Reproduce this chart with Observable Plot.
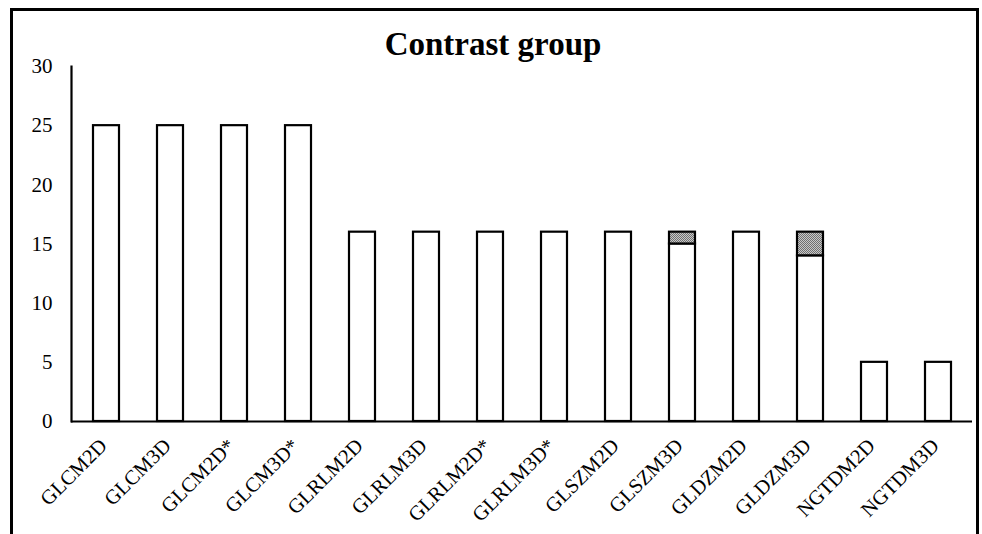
<!DOCTYPE html>
<html><head><meta charset="utf-8">
<script src="https://cdn.jsdelivr.net/npm/d3@7"></script>
<script src="https://cdn.jsdelivr.net/npm/@observablehq/plot@0.6"></script>
<style>
html,body{margin:0;padding:0;background:#fff;overflow:hidden;width:982px;height:534px}
#wrap{position:relative;width:982px;height:534px}
#border{position:absolute;left:10px;top:8px;width:969px;height:560px;border:3px solid #000;box-sizing:border-box;pointer-events:none}
svg{font-family:"Liberation Serif","Times New Roman",serif}
</style></head>
<body><div id="wrap"><div id="border"></div></div>
<script>
const categories = ["GLCM2D","GLCM3D","GLCM2D*","GLCM3D*","GLRLM2D","GLRLM3D","GLRLM2D*","GLRLM3D*","GLSZM2D","GLSZM3D","GLDZM2D","GLDZM3D","NGTDM2D","NGTDM3D"];
const mainValues = [25,25,25,25,16,16,16,16,16,15,16,14,5,5];
const greyValues = [0,0,0,0,0,0,0,0,0,1,0,2,0,0];
const yTicks = [0,5,10,15,20,25,30];
const title = "Contrast group";

const data = [];
categories.forEach((c,i)=>{
  data.push({cat:c, part:"main", v:mainValues[i]});
  data.push({cat:c, part:"grey", v:greyValues[i]});
});

const plot = Plot.plot({
  width: 982, height: 534,
  marginLeft: 71, marginRight: 10, marginTop: 66, marginBottom: 113,
  style: {fontFamily: '"Liberation Serif","Times New Roman",serif', background: "transparent", overflow: "visible"},
  x: {domain: categories, paddingInner: 0.6, paddingOuter: 0.3, label: null},
  y: {domain: [0,30], ticks: yTicks, label: null},
  color: {domain: ["main","grey"], range: ["#ffffff","url(#dots)"]},
  marks: [
    Plot.barY(data, Plot.stackY({x:"cat", y:"v", fill:"part", stroke:"#000", strokeWidth:2.2, order: null})),
    Plot.ruleY([0], {stroke:"#000", strokeWidth:2.2}),
    Plot.frame({anchor:"left", stroke:"#000", strokeWidth:2.2}),
    Plot.axisY({ticks: yTicks, tickSize: 0, tickPadding: 19, fontSize: 21, label: null, fill:"#000"}),
    Plot.axisX({tickSize: 0, tickRotate: -45, tickPadding: 21, dx: -3, fontSize: 20.5, label: null, fill:"#000"}),
    Plot.text([title], {frameAnchor: "top", dx: -29, dy: -34.5, fontSize: 33, fontWeight: "bold", fill:"#000"})
  ]
});
const defs = d3.select(plot).insert("defs", ":first-child");
const pat = defs.append("pattern").attr("id","dots").attr("width",2).attr("height",2).attr("patternUnits","userSpaceOnUse");
pat.append("rect").attr("width",2).attr("height",2).attr("fill","#c8c8c8");
pat.append("rect").attr("width",1).attr("height",1).attr("fill","#707070");
pat.append("rect").attr("x",1).attr("y",1).attr("width",1).attr("height",1).attr("fill","#707070");
document.getElementById("wrap").prepend(plot);
plot.style.position="absolute"; plot.style.left="0"; plot.style.top="0";
</script>
</body></html>
